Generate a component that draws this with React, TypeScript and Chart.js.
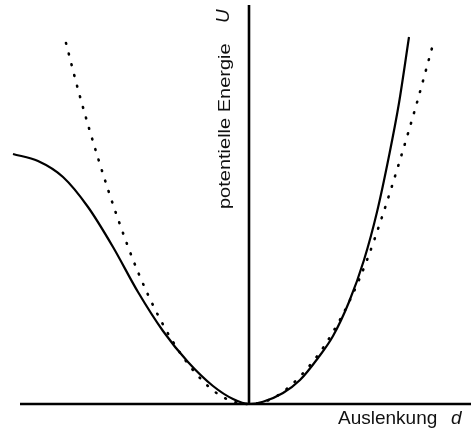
import { useEffect, useRef } from "react";
import { Chart, registerables } from "chart.js";

Chart.register(...registerables);

// Anharmonic (real) potential: displacement d and potential energy U
const realD = [-2.36, -2.11, -1.86, -1.61, -1.36, -1.11, -0.86, -0.61, -0.36, -0.16, 0, 0.14, 0.34, 0.51, 0.69, 0.84, 1.0, 1.15, 1.28, 1.4, 1.5, 1.6];
const realU = [2.5, 2.43, 2.27, 1.97, 1.57, 1.12, 0.73, 0.42, 0.18, 0.05, 0, 0.023, 0.11, 0.24, 0.46, 0.68, 1.02, 1.44, 1.92, 2.48, 3.01, 3.67];

// Harmonic approximation (dotted)
const harmonicD = [-1.83, -1.7, -1.51, -1.31, -1.11, -0.89, -0.66, -0.4, -0.2, 0, 0.2, 0.4, 0.66, 0.84, 1.01, 1.18, 1.34, 1.51, 1.67, 1.83];
const harmonicU = [3.61, 3.11, 2.46, 1.85, 1.32, 0.85, 0.47, 0.17, 0.04, 0, 0.04, 0.17, 0.45, 0.72, 1.04, 1.44, 1.9, 2.44, 2.98, 3.56];

const xAxisLabel = "Auslenkung";
const xAxisSymbol = "d";
const yAxisLabel = "potentielle Energie";
const yAxisSymbol = "U";

// Extent of the drawn coordinate axes (data units)
const AXIS_D_MIN = -2.29;
const AXIS_D_MAX = 2.22;
const AXIS_U_MAX = 3.99;

const FONT = '"Liberation Sans", Arial, Helvetica, sans-serif';

const axesPlugin = {
  id: "crossAxes",
  afterDatasetsDraw(chart: any) {
    const { ctx, scales } = chart;
    const x = scales.x;
    const y = scales.y;
    const x0 = x.getPixelForValue(0);
    const y0 = y.getPixelForValue(0);

    ctx.save();
    ctx.strokeStyle = "#000";
    ctx.lineWidth = 2.6;
    ctx.lineCap = "butt";
    ctx.beginPath();
    ctx.moveTo(x.getPixelForValue(AXIS_D_MIN), y0);
    ctx.lineTo(x.getPixelForValue(AXIS_D_MAX), y0);
    ctx.stroke();
    ctx.beginPath();
    ctx.moveTo(x0, y.getPixelForValue(AXIS_U_MAX));
    ctx.lineTo(x0, y0 + 1);
    ctx.stroke();

    ctx.fillStyle = "#111";
    ctx.textAlign = "left";
    ctx.textBaseline = "alphabetic";

    // horizontal axis title
    ctx.font = `19px ${FONT}`;
    ctx.fillText(xAxisLabel, x0 + 89, y0 + 20);
    ctx.font = `italic 19px ${FONT}`;
    ctx.fillText(xAxisSymbol, x0 + 202, y0 + 20);

    // vertical axis title, reading upwards
    ctx.save();
    ctx.translate(x0 - 19.2, 209);
    ctx.rotate(-Math.PI / 2);
    ctx.scale(1, 0.87);
    ctx.font = `20px ${FONT}`;
    ctx.fillText(yAxisLabel, 0, 0);
    ctx.restore();

    ctx.save();
    ctx.translate(x0 - 20, 23);
    ctx.rotate(-Math.PI / 2);
    ctx.font = `italic 19px ${FONT}`;
    ctx.fillText(yAxisSymbol, 0, 0);
    ctx.restore();

    ctx.restore();
  },
};

export default function App() {
  const canvasRef = useRef<HTMLCanvasElement | null>(null);

  useEffect(() => {
    if (!canvasRef.current) return;
    const chart = new Chart(canvasRef.current, {
      type: "line",
      data: {
        datasets: [
          {
            label: "harmonisch",
            data: harmonicD.map((d, i) => ({ x: d, y: harmonicU[i] })),
            borderColor: "#000",
            borderWidth: 2.6,
            borderDash: [0.8, 10.2],
            borderCapStyle: "round",
            pointRadius: 0,
            cubicInterpolationMode: "monotone",
            fill: false,
          },
          {
            label: "real",
            data: realD.map((d, i) => ({ x: d, y: realU[i] })),
            borderColor: "#000",
            borderWidth: 2.2,
            pointRadius: 0,
            cubicInterpolationMode: "monotone",
            fill: false,
          },
        ],
      },
      options: {
        responsive: false,
        animation: false,
        devicePixelRatio: 1,
        layout: { padding: 0 },
        plugins: {
          legend: { display: false },
          tooltip: { enabled: false },
          title: { display: false },
        },
        scales: {
          x: { type: "linear", min: -2.49, max: 2.22, display: false },
          y: { type: "linear", min: -0.29, max: 4.04, display: false },
        },
      },
      plugins: [axesPlugin],
    } as any);
    return () => chart.destroy();
  }, []);

  return (
    <div style={{ position: "absolute", left: 0, top: 0, width: 471, height: 433, background: "#fff" }}>
      <canvas ref={canvasRef} width={471} height={433} style={{ width: 471, height: 433, display: "block" }} />
    </div>
  );
}
